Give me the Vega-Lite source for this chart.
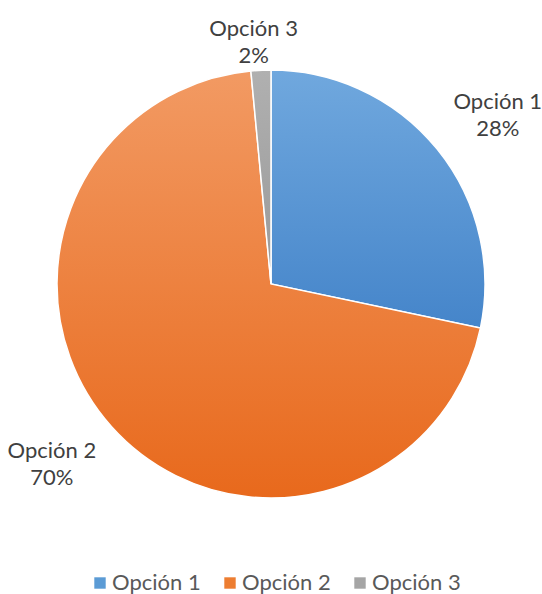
{
  "$schema": "https://vega.github.io/schema/vega-lite/v6.json",
  "width": 542,
  "height": 568,
  "autosize": "none",
  "padding": {"left": 0, "right": 0, "top": 0, "bottom": 26},
  "background": "white",
  "config": {"view": {"stroke": null}, "font": "Lato"},
  "data": {"values": [
    {"opcion": "Opción 1", "valor": 28.3, "etiqueta": "Opción 1\n28%"},
    {"opcion": "Opción 2", "valor": 70.2, "etiqueta": "Opción 2\n70%"},
    {"opcion": "Opción 3", "valor": 1.5, "etiqueta": "Opción 3\n2%"}
  ]},
  "encoding": {
    "theta": {"field": "valor", "type": "quantitative", "stack": true},
    "order": {"field": "opcion", "type": "nominal"}
  },
  "layer": [
    {
      "mark": {"type": "arc", "outerRadius": 214, "stroke": "white", "strokeWidth": 1.5},
      "encoding": {
        "color": {
          "field": "opcion", "type": "nominal",
          "scale": {"domain": ["Opción 1", "Opción 2", "Opción 3"], "range": ["#5B9BD5", "#ED7D31", "#A5A5A5"]},
          "legend": {
            "orient": "none", "legendX": 89, "legendY": 572, "direction": "horizontal",
            "title": null, "symbolType": "square", "symbolSize": 130, "symbolStrokeWidth": 0,
            "labelFontSize": 22, "labelColor": "#595959", "labelFont": "Lato",
            "columnPadding": 18, "symbolOffset": 0, "labelOffset": 1
          }
        }
      }
    },
    {
      "mark": {"type": "arc", "outerRadius": 214, "stroke": "white", "strokeWidth": 1.5},
      "encoding": {
        "fill": {
          "condition": [
            {"test": "datum.opcion === 'Opción 1'", "value": {"gradient": "linear", "x1": 0, "y1": 0, "x2": 0, "y2": 1, "stops": [{"offset": 0, "color": "#70A8DE"}, {"offset": 1, "color": "#4585CA"}]}},
            {"test": "datum.opcion === 'Opción 2'", "value": {"gradient": "linear", "x1": 0, "y1": 0, "x2": 0, "y2": 1, "stops": [{"offset": 0, "color": "#F29A63"}, {"offset": 1, "color": "#E8691C"}]}}
          ],
          "value": {"gradient": "linear", "x1": 0, "y1": 0, "x2": 0, "y2": 1, "stops": [{"offset": 0, "color": "#B0B0B0"}, {"offset": 1, "color": "#999999"}]}
        }
      }
    },
    {
      "mark": {"type": "text", "fontSize": 22, "lineHeight": 27, "lineBreak": "\n", "color": "#404040", "font": "Lato", "baseline": "middle", "align": "center",
        "radius": {"expr": "datum.opcion === 'Opción 3' ? 242 : 283"},
        "dx": {"expr": "datum.opcion === 'Opción 1' ? 7 : datum.opcion === 'Opción 2' ? -8 : -6"},
        "dy": {"expr": "datum.opcion === 'Opción 1' ? -4 : datum.opcion === 'Opción 2' ? -21 : -13"}},
      "encoding": {
        "text": {"field": "etiqueta", "type": "nominal"}
      }
    }
  ]
}
